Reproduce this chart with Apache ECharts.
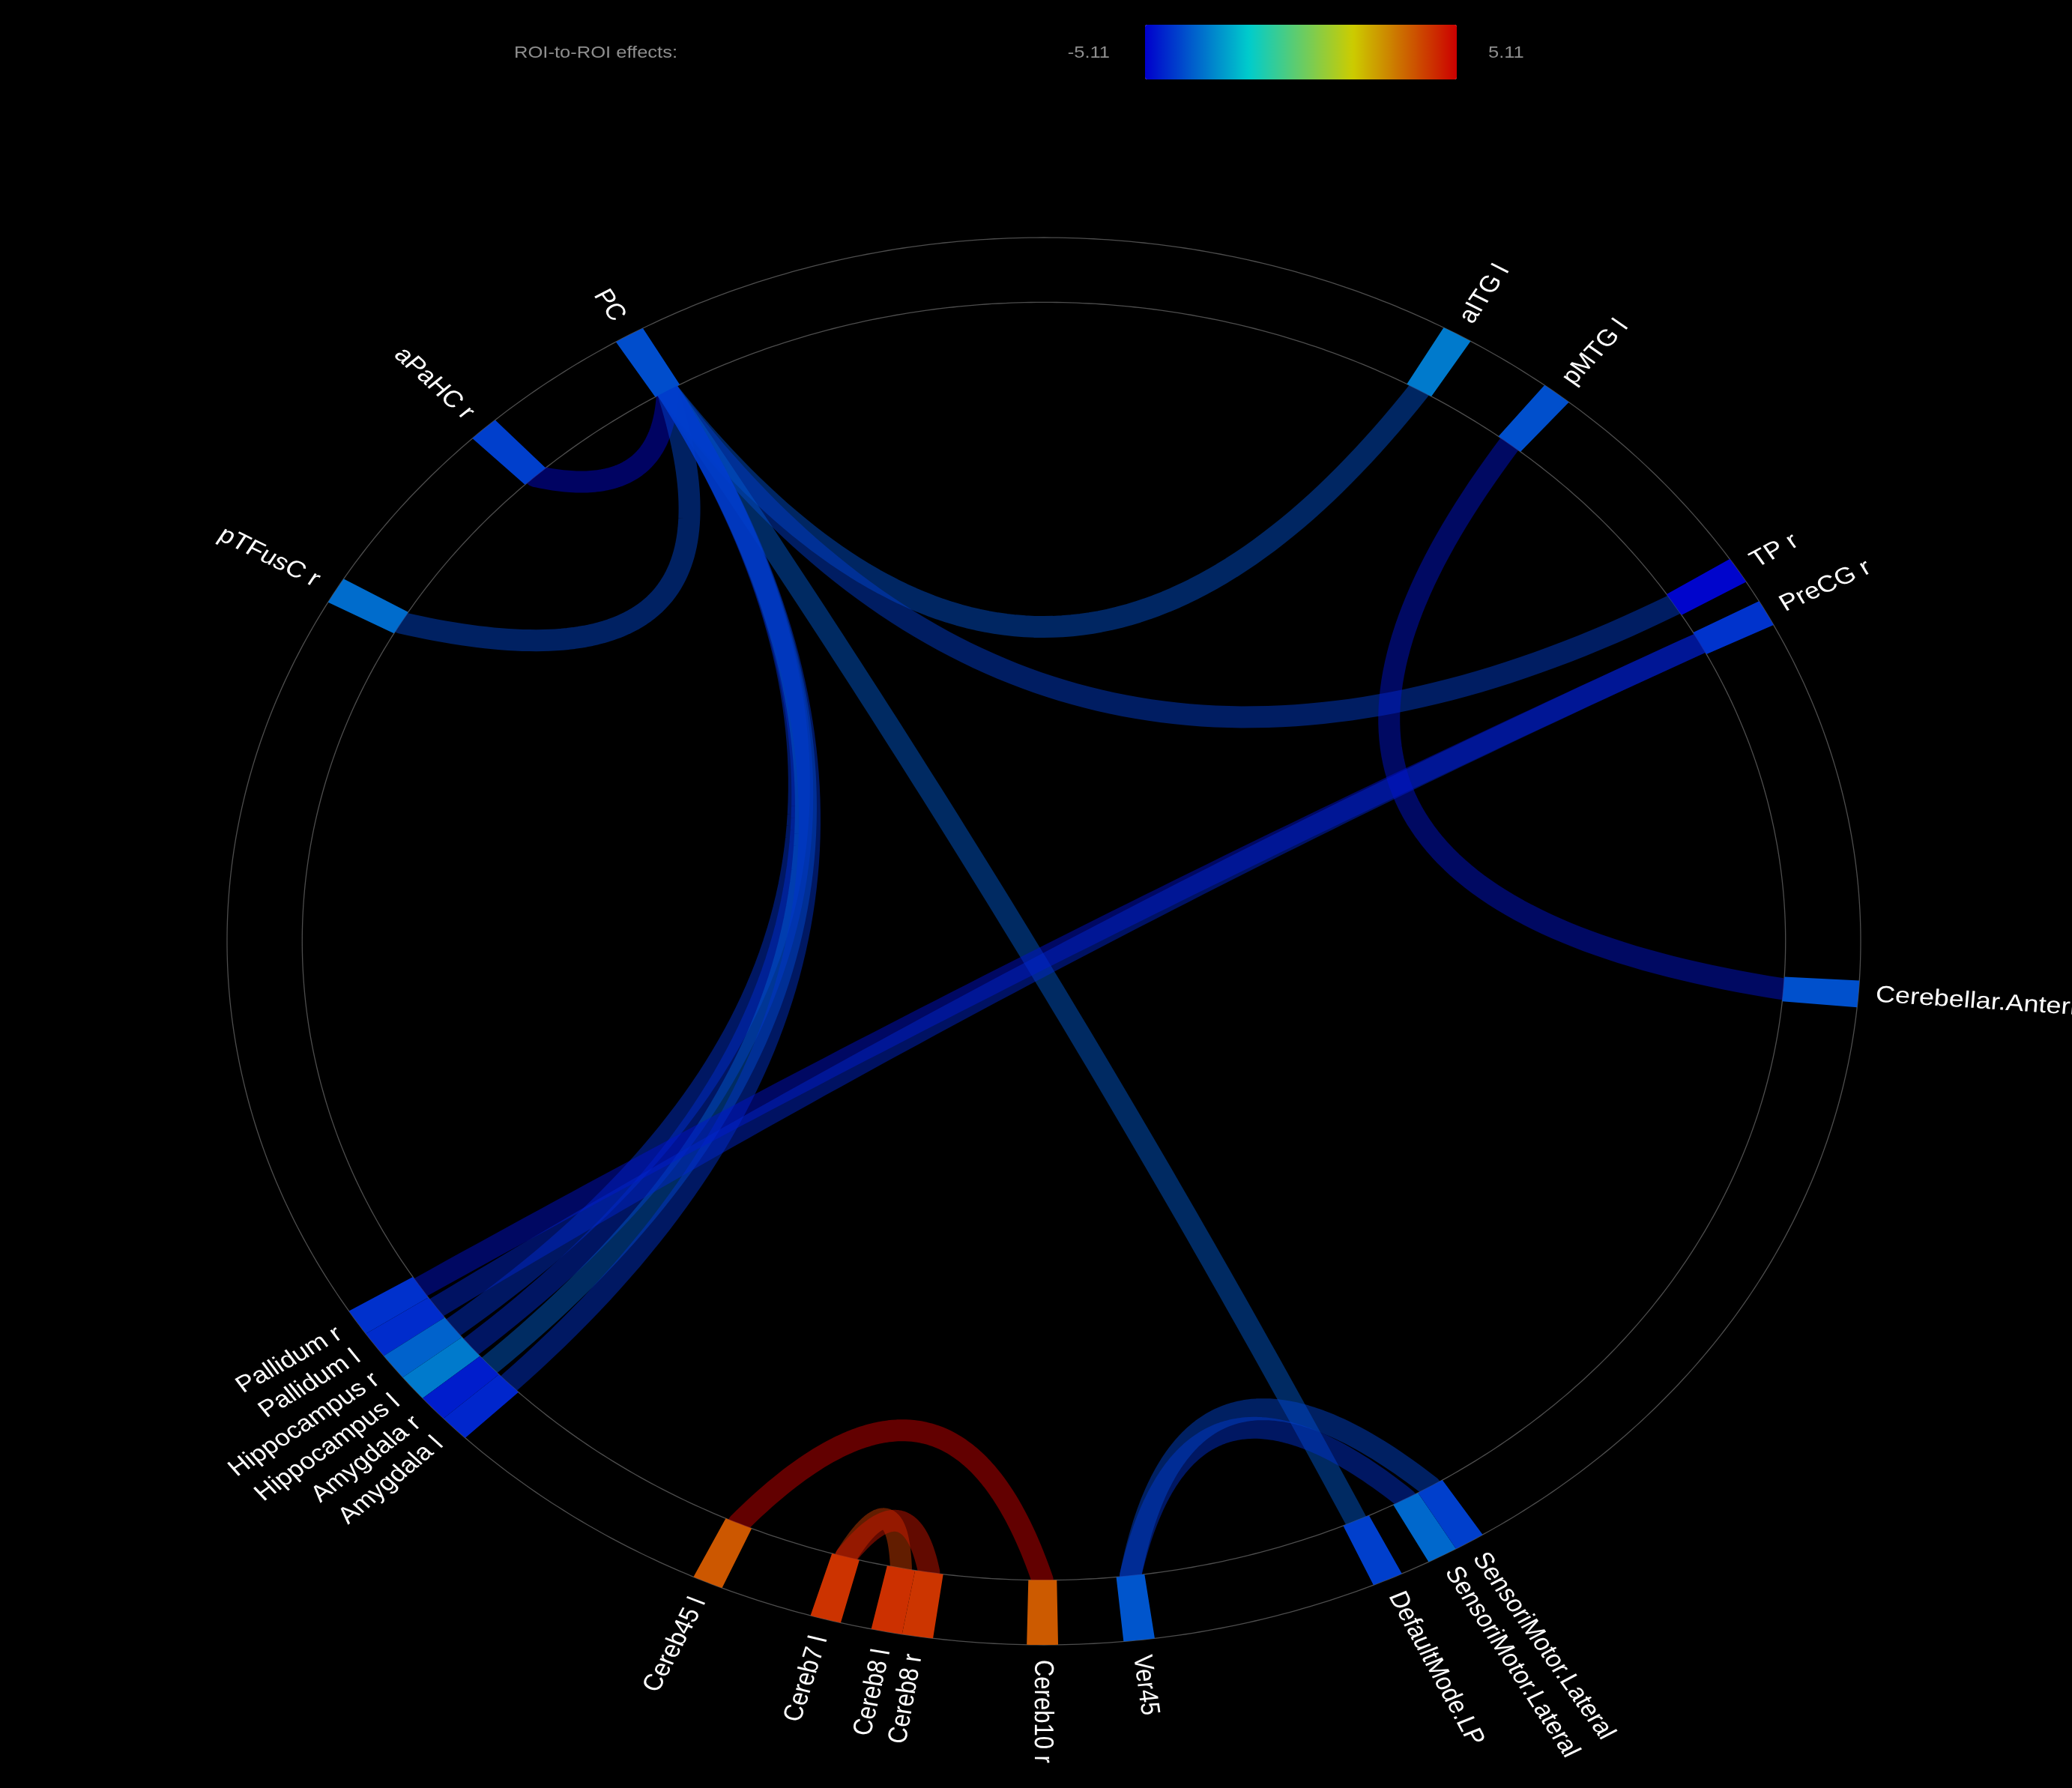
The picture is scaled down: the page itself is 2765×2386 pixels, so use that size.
<!DOCTYPE html>
<html>
<head>
<meta charset="utf-8">
<style>
html,body{margin:0;padding:0;background:#000;}
#chart{width:2765px;height:2386px;}
</style>
<script src="https://cdn.jsdelivr.net/npm/echarts@6/dist/echarts.min.js"></script>
</head>
<body>
<div id="chart"></div>
<script>
// ---------------- data ----------------
const roiNames = ['PC','aPaHC r','pTFusC r','Pallidum r','Pallidum l','Hippocampus r','Hippocampus l','Amygdala r','Amygdala l',
  'Cereb45 l','Cereb7 l','Cereb8 l','Cereb8 r','Cereb10 r','Ver45','DefaultMode.LP','SensoriMotor.Lateral','SensoriMotor.Lateral',
  'Cerebellar.Anterior','PreCG r','TP r','pMTG l','aITG l'];
// angular position of each ROI on the ring (degrees, counter-clockwise from 3 o'clock)
const roiAngles = [120.5,133.3,150.1,212.8,215.0,217.2,219.4,221.6,223.8,
  245.7,254.5,258.9,261.1,269.9,276.7,294.9,299.2,301.4,
  355.7,27.8,31.8,51.1,59.6];
// ROI-level effect (T) values
const roiEffects = [-3.82,-4.06,-3.31,-4.30,-4.37,-3.47,-3.07,-4.62,-4.48,
  3.65,4.26,4.31,4.22,3.61,-3.69,-4.06,-3.37,-4.06,
  -3.78,-4.26,-5.03,-3.79,-3.07];
// ROI-to-ROI connections
const linkSource  = [0,0,0,0,0,0,0,0,0,19,19,21,14,14,9,10,10];
const linkTarget  = [1,2,22,20,15,5,6,7,8,3,4,18,16,17,13,11,12];
const linkEffects = [-5.0,-3.98,-3.77,-4.09,-3.64,-4.3,-4.4,-3.58,-4.27,-4.82,-4.5,-4.8,-4.3,-4.0,5.11,4.1,4.77];
// colour scale
const effectRange = [-5.11, 5.11];
const colorbarTicks = ['-5.11', '5.11'];
const titleText = 'ROI-to-ROI effects:';

// ---------------- layout / style constants ----------------
const CX = 1393, CY = 1256, RX = 1090, RY = 939;
const XSPAN = 1.25, YSPAN = 1.2;
const STRETCH = RX / RY;
const R_IN = 0.908;
const NODE_W = 2.2;
const JET = ['#0000cc', '#00cccc', '#cccc00', '#cc0000'];
const FONT = '"Liberation Sans", Arial, Helvetica, sans-serif';

function toXY(deg, r) {
  const a = deg * Math.PI / 180;
  return [r * Math.cos(a), r * Math.sin(a)];
}
// how far the chord control point sits from the centre, by angular distance
function bend(d) {
  const tbl = [[0,0.86],[13,0.86],[24,0.61],[61,0.14],[90,0.07],[180,0]];
  for (let i = 1; i < tbl.length; i++) {
    if (d <= tbl[i][0]) {
      const d0 = tbl[i-1][0], k0 = tbl[i-1][1], d1 = tbl[i][0], k1 = tbl[i][1];
      return k0 + (k1 - k0) * (d - d0) / (d1 - d0);
    }
  }
  return 0;
}

const nodeData = roiAngles.map((a, i) => [a, roiEffects[i], i]);
const linkData = linkSource.map((s, i) => [s, linkTarget[i], linkEffects[i]]);

const chart = echarts.init(document.getElementById('chart'), null, {renderer: 'canvas'});

const option = {
  backgroundColor: '#000',
  animation: false,
  grid: {left: CX - XSPAN * RX, top: CY - YSPAN * RY, width: 2 * XSPAN * RX, height: 2 * YSPAN * RY, show: false},
  xAxis: {type: 'value', min: -XSPAN, max: XSPAN, show: false},
  yAxis: {type: 'value', min: -YSPAN, max: YSPAN, show: false},
  visualMap: [
    {
      type: 'continuous', min: effectRange[0], max: effectRange[1],
      orient: 'horizontal', left: 1528, top: 33, padding: 0,
      itemWidth: 73, itemHeight: 416, calculable: false, hoverLink: false,
      inRange: {color: JET}, seriesIndex: 2, dimension: 1
    },
    {
      type: 'continuous', show: false, min: effectRange[0], max: effectRange[1],
      inRange: {color: JET}, seriesIndex: 1, dimension: 2
    }
  ],
  graphic: [
    {type: 'text', x: 686, y: 71, scaleX: STRETCH, scaleY: 1,
      style: {text: titleText, fill: '#8e8e8e', fontSize: 22, fontFamily: FONT, align: 'left', verticalAlign: 'middle'}},
    {type: 'text', x: 1481, y: 71, scaleX: STRETCH, scaleY: 1,
      style: {text: colorbarTicks[0], fill: '#8e8e8e', fontSize: 22, fontFamily: FONT, align: 'right', verticalAlign: 'middle'}},
    {type: 'text', x: 1986, y: 71, scaleX: STRETCH, scaleY: 1,
      style: {text: colorbarTicks[1], fill: '#8e8e8e', fontSize: 22, fontFamily: FONT, align: 'left', verticalAlign: 'middle'}}
  ],
  series: [
    {
      // ring outlines
      type: 'custom', coordinateSystem: 'cartesian2d', z: 1, clip: false, silent: true,
      data: [[0, 0]],
      renderItem: function (params, api) {
        const rings = [1, R_IN].map(function (r) {
          const pts = [];
          for (let i = 0; i <= 720; i++) pts.push(api.coord(toXY(i / 2, r)));
          return {type: 'polyline', shape: {points: pts}, style: {stroke: '#4d4d4d', lineWidth: 1.3, fill: null}};
        });
        return {type: 'group', children: rings};
      }
    },
    {
      // connections
      type: 'custom', coordinateSystem: 'cartesian2d', z: 2, clip: false, silent: true,
      data: linkData,
      renderItem: function (params, api) {
        const a = roiAngles[api.value(0)], b = roiAngles[api.value(1)];
        let d = Math.abs(a - b); if (d > 180) d = 360 - d;
        const p0 = toXY(a, R_IN), p2 = toXY(b, R_IN);
        const k = bend(d);
        const c = [k * (p0[0] + p2[0]) / 2, k * (p0[1] + p2[1]) / 2];
        const pts = [api.coord(toXY(a, R_IN + 0.03))];
        const N = 80;
        for (let i = 0; i <= N; i++) {
          const u = i / N, w0 = (1 - u) * (1 - u), w1 = 2 * u * (1 - u), w2 = u * u;
          pts.push(api.coord([w0 * p0[0] + w1 * c[0] + w2 * p2[0], w0 * p0[1] + w1 * c[1] + w2 * p2[1]]));
        }
        pts.push(api.coord(toXY(b, R_IN + 0.03)));
        return {
          type: 'polyline', shape: {points: pts},
          style: {stroke: api.visual('color'), lineWidth: 29, fill: null, opacity: 0.48, lineJoin: 'round'}
        };
      }
    },
    {
      // ROI blocks + labels
      type: 'custom', coordinateSystem: 'cartesian2d', z: 3, clip: false, silent: true,
      data: nodeData,
      renderItem: function (params, api) {
        const ang = api.value(0), idx = api.value(2);
        const pts = [];
        for (let i = 0; i <= 8; i++) pts.push(api.coord(toXY(ang - NODE_W / 2 + NODE_W * i / 8, 1)));
        for (let i = 8; i >= 0; i--) pts.push(api.coord(toXY(ang - NODE_W / 2 + NODE_W * i / 8, R_IN)));
        const rad = ang * Math.PI / 180;
        const left = Math.cos(rad) < -0.01;
        const off = left ? 24 : 20;
        const outer = api.coord(toXY(ang, 1));
        return {
          type: 'group',
          children: [
            {type: 'polygon', shape: {points: pts}, style: {fill: api.visual('color')}},
            {
              type: 'group', x: outer[0], y: outer[1], scaleX: STRETCH, scaleY: 1,
              children: [{
                type: 'text',
                x: off * Math.cos(rad), y: -off * Math.sin(rad),
                rotation: left ? rad + Math.PI : rad,
                style: {
                  text: roiNames[idx], fill: '#ffffff', fontSize: 31, fontFamily: FONT,
                  align: left ? 'right' : 'left', verticalAlign: 'middle'
                }
              }]
            }
          ]
        };
      }
    }
  ]
};
chart.setOption(option);
</script>
</body>
</html>
